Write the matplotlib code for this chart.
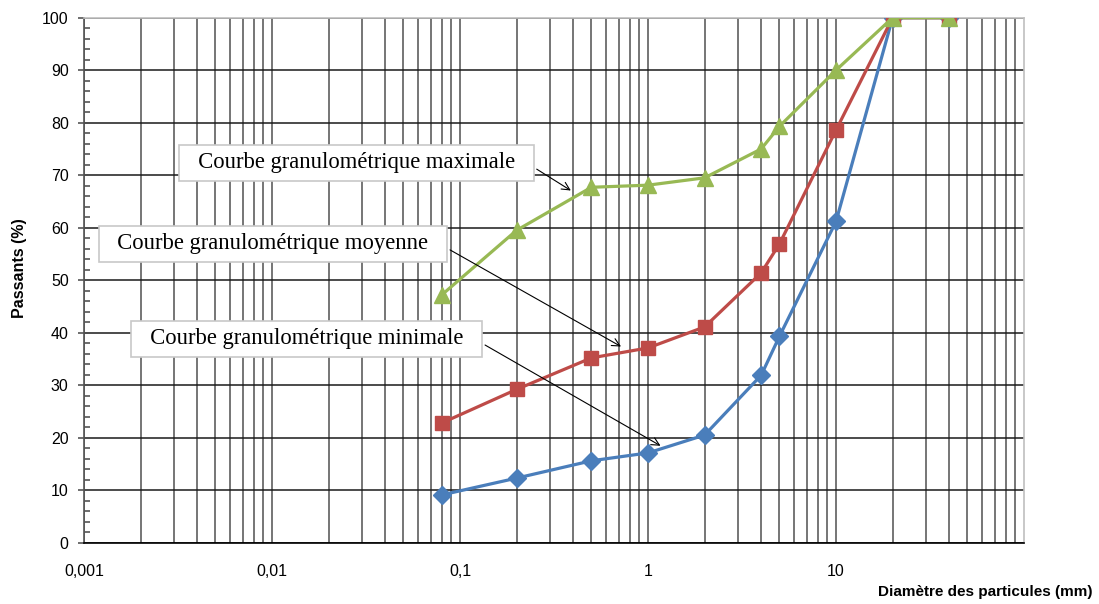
import matplotlib.pyplot as plt
from matplotlib.ticker import FixedLocator, LogLocator, MultipleLocator, NullFormatter

# ============== Daten ==============
diametres = [0.08, 0.2, 0.5, 1, 2, 4, 5, 10, 20, 40]
courbe_min = [9.1, 12.3, 15.6, 17.1, 20.5, 31.9, 39.3, 61.2, 100, 100]
courbe_moy = [22.8, 29.2, 35.2, 37.1, 41.1, 51.4, 56.9, 78.6, 100, 100]
courbe_max = [47.2, 59.5, 67.7, 68.1, 69.5, 75.0, 79.3, 90.0, 100, 100]

x_ticks = [0.001, 0.01, 0.1, 1, 10]
x_ticklabels = ["0,001", "0,01", "0,1", "1", "10"]

# Annotationen: Text, Pfeilspitze (Daten), Position des Kastens (Achsenanteil)
annotations = [
    ("Courbe granulométrique maximale", (0.40, 66.8), (0.290, 0.724)),
    ("Courbe granulométrique moyenne", (0.74, 37.1), (0.201, 0.569)),
    ("Courbe granulométrique minimale", (1.20, 18.2), (0.237, 0.388)),
]

BLUE = "#4A7EBB"
RED = "#BE4B48"
GREEN = "#98B954"

plt.rcParams["font.family"] = ["Liberation Sans", "DejaVu Sans"]

fig = plt.figure(figsize=(10.99, 6.04), dpi=100)
ax = fig.add_axes([0.0764, 0.1015, 0.8554, 0.8692])

ax.plot(diametres, courbe_min, color=BLUE, lw=2.3, marker="D", ms=9, zorder=3)
ax.plot(diametres, courbe_moy, color=RED, lw=2.3, marker="s", ms=10.5, zorder=4)
ax.plot(diametres, courbe_max, color=GREEN, lw=2.3, marker="^", ms=11.5, zorder=5)

ax.set_xscale("log")
ax.set_xlim(0.001, 100)
ax.set_ylim(0, 100)

ax.xaxis.set_major_locator(FixedLocator(x_ticks))
ax.set_xticklabels(x_ticklabels)
ax.xaxis.set_minor_locator(LogLocator(base=10, subs=range(2, 10), numticks=20))
ax.xaxis.set_minor_formatter(NullFormatter())
ax.tick_params(axis="x", which="both", length=0, pad=15, labelsize=11.5)

ax.yaxis.set_major_locator(MultipleLocator(10))
ax.yaxis.set_minor_locator(MultipleLocator(2))
ax.tick_params(axis="y", which="major", direction="out", length=4, width=1.2,
               color="#555555", pad=7, labelsize=11.5)
ax.tick_params(axis="y", which="minor", direction="in", length=4, width=1.2,
               color="#555555")

ax.grid(axis="x", which="both", color="#505050", lw=1.1, zorder=1)
ax.grid(axis="y", which="major", color="#1a1a1a", lw=1.1, zorder=1)
ax.set_axisbelow(True)

ax.spines["top"].set_color("#BFBFBF")
ax.spines["right"].set_color("#BFBFBF")
ax.spines["left"].set_color("#555555")
ax.spines["bottom"].set_color("black")
for s in ax.spines.values():
    s.set_linewidth(1.2)

for texte, pointe, pos in annotations:
    ax.annotate("  " + texte + "  ", xy=pointe, xycoords="data",
                xytext=pos, textcoords="axes fraction",
                ha="center", va="center", fontsize=16.3,
                family=["Liberation Serif", "DejaVu Serif"],
                bbox=dict(boxstyle="square,pad=0.33", fc="white", ec="#C8C8C8", lw=1.2),
                arrowprops=dict(arrowstyle="->", color="black", lw=0.8,
                                relpos=(1, 0.5), mutation_scale=14),
                zorder=6)

fig.text(0.994, 0.02, "Diamètre des particules (mm)", ha="right", va="center",
         fontsize=11, fontweight="bold")
fig.text(0.018, 0.556, "Passants (%)", ha="center", va="center", rotation=90,
         fontsize=11.5, fontweight="bold")

fig.savefig("out.png", dpi=100)
